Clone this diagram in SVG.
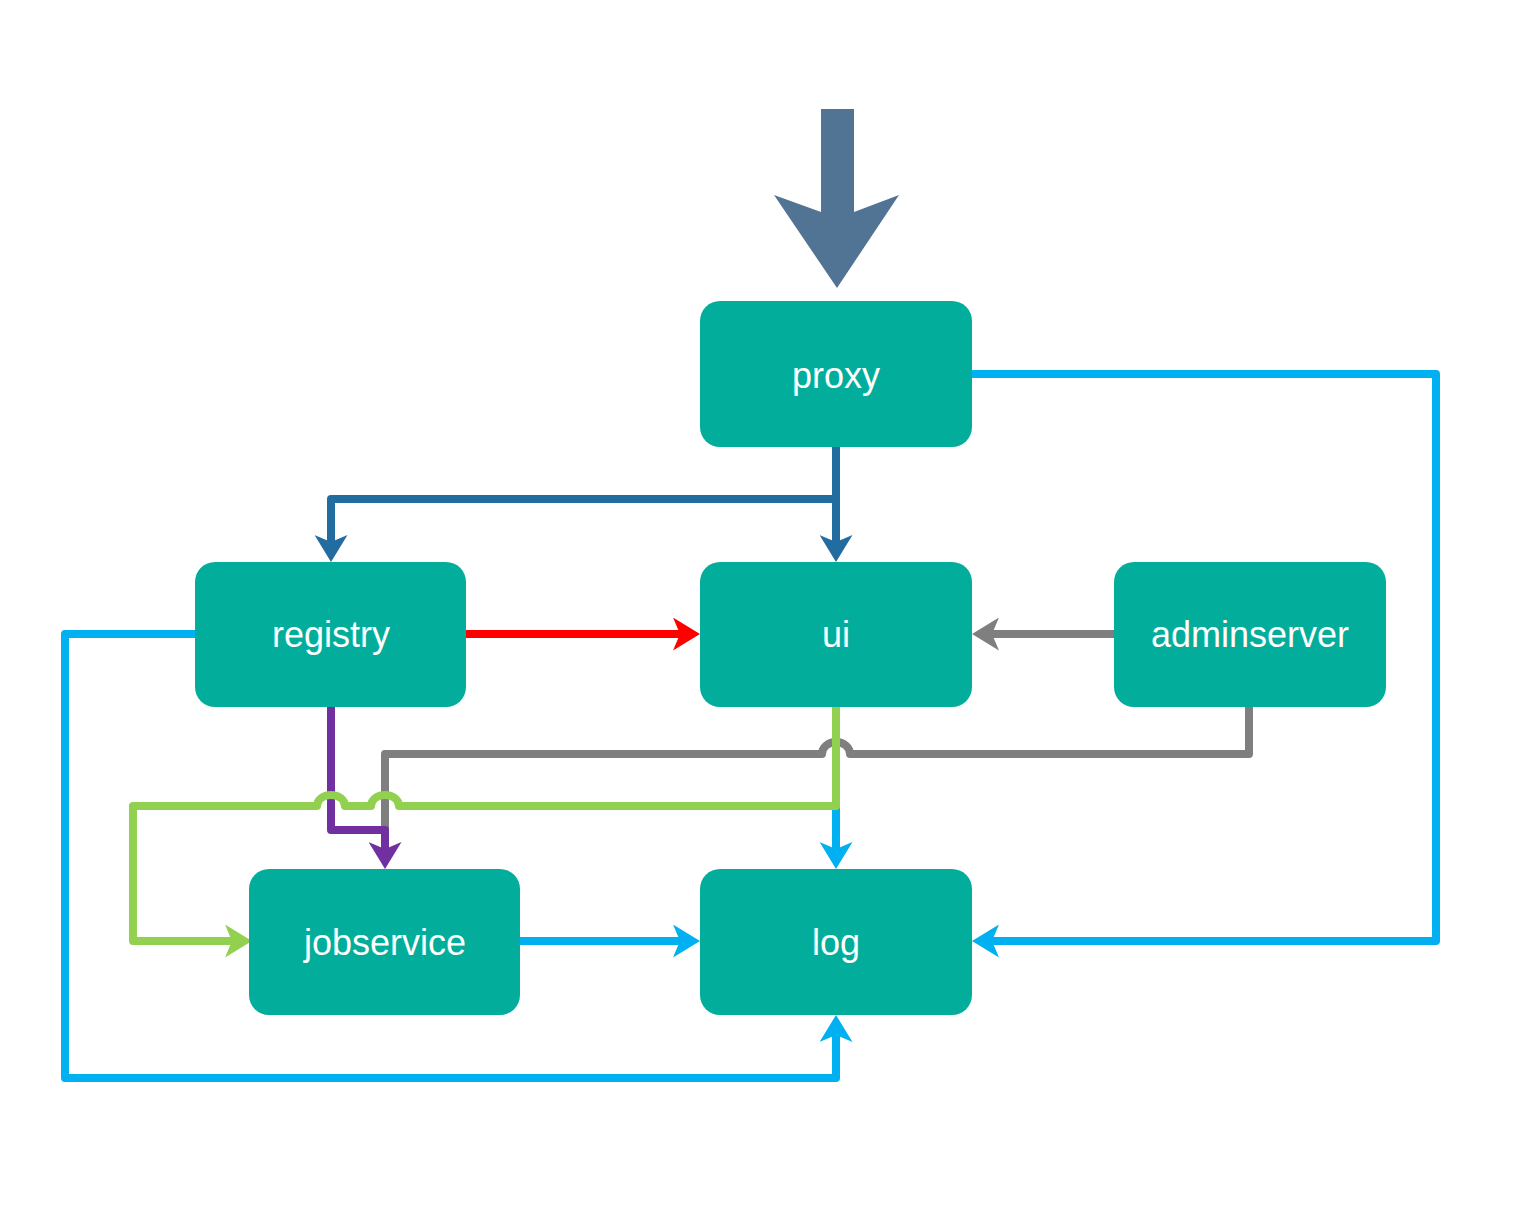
<svg xmlns="http://www.w3.org/2000/svg" width="1522" height="1218" viewBox="0 0 1522 1218">
<style>
.node rect{fill:#02AE9B}
.node text{fill:#FFFFFF;font-family:"Liberation Sans",Arial,sans-serif;font-size:36px;text-anchor:middle}
.c{fill:none;stroke-width:8;stroke-linejoin:round}
</style>
<defs>
<marker id="aDB" markerUnits="userSpaceOnUse" markerWidth="27" markerHeight="33" viewBox="0 0 27 33" refX="7" refY="16.5" orient="auto"><path d="M0,0 L27,16.5 L0,33 L7,16.5 Z" fill="#236CA0"/></marker>
<marker id="aLB" markerUnits="userSpaceOnUse" markerWidth="27" markerHeight="33" viewBox="0 0 27 33" refX="7" refY="16.5" orient="auto"><path d="M0,0 L27,16.5 L0,33 L7,16.5 Z" fill="#00B0F0"/></marker>
<marker id="aR" markerUnits="userSpaceOnUse" markerWidth="27" markerHeight="33" viewBox="0 0 27 33" refX="7" refY="16.5" orient="auto"><path d="M0,0 L27,16.5 L0,33 L7,16.5 Z" fill="#FF0000"/></marker>
<marker id="aG" markerUnits="userSpaceOnUse" markerWidth="27" markerHeight="33" viewBox="0 0 27 33" refX="7" refY="16.5" orient="auto"><path d="M0,0 L27,16.5 L0,33 L7,16.5 Z" fill="#7F7F7F"/></marker>
<marker id="aP" markerUnits="userSpaceOnUse" markerWidth="27" markerHeight="33" viewBox="0 0 27 33" refX="7" refY="16.5" orient="auto"><path d="M0,0 L27,16.5 L0,33 L7,16.5 Z" fill="#7030A0"/></marker>
<marker id="aGr" markerUnits="userSpaceOnUse" markerWidth="27" markerHeight="33" viewBox="0 0 27 33" refX="7" refY="16.5" orient="auto"><path d="M0,0 L27,16.5 L0,33 L7,16.5 Z" fill="#92D050"/></marker>
</defs>
<g id="connectors">
<polygon id="entry" points="821,109 854,109 854,212 899,195 837,288 774,195 821,212" fill="#517394"/>
<path class="c" stroke="#236CA0" d="M836,447 L836,542" marker-end="url(#aDB)"/>
<path class="c" stroke="#236CA0" d="M836,499 L331,499 L331,542" marker-end="url(#aDB)"/>
<path class="c" stroke="#00B0F0" d="M972,374 L1436,374 L1436,941 L992,941" marker-end="url(#aLB)"/>
<path class="c" stroke="#00B0F0" d="M195,634 L65,634 L65,1078 L836,1078 L836,1035" marker-end="url(#aLB)"/>
<path class="c" stroke="#00B0F0" d="M520,941 L680,941" marker-end="url(#aLB)"/>
<path class="c" stroke="#00B0F0" d="M836,707 L836,849" marker-end="url(#aLB)"/>
<path class="c" stroke="#FF0000" d="M466,634 L680,634" marker-end="url(#aR)"/>
<path class="c" stroke="#7F7F7F" d="M1114,634 L992,634" marker-end="url(#aG)"/>
<path class="c" stroke="#7F7F7F" d="M1249,707 L1249,754 L850,754 A14,12 0 0 0 822,754 L385,754 L385,845"/>
<path class="c" stroke="#7030A0" d="M331,707 L331,830 L385,830 L385,849" marker-end="url(#aP)"/>
<path class="c" stroke="#92D050" d="M836,707 L836,806 L399,806 A14,11 0 0 0 371,806 L345,806 A14,11 0 0 0 317,806 L133,806 L133,941 L232,941" marker-end="url(#aGr)"/>
</g>
<g id="proxy" class="node"><rect x="700" y="301" width="272" height="146" rx="20"/><text x="836" y="388">proxy</text></g>
<g id="registry" class="node"><rect x="195" y="562" width="271" height="145" rx="20"/><text x="331" y="647">registry</text></g>
<g id="ui" class="node"><rect x="700" y="562" width="272" height="145" rx="20"/><text x="836" y="647">ui</text></g>
<g id="adminserver" class="node"><rect x="1114" y="562" width="272" height="145" rx="20"/><text x="1250" y="647">adminserver</text></g>
<g id="jobservice" class="node"><rect x="249" y="869" width="271" height="146" rx="20"/><text x="385" y="955">jobservice</text></g>
<g id="log" class="node"><rect x="700" y="869" width="272" height="146" rx="20"/><text x="836" y="955">log</text></g>
</svg>
